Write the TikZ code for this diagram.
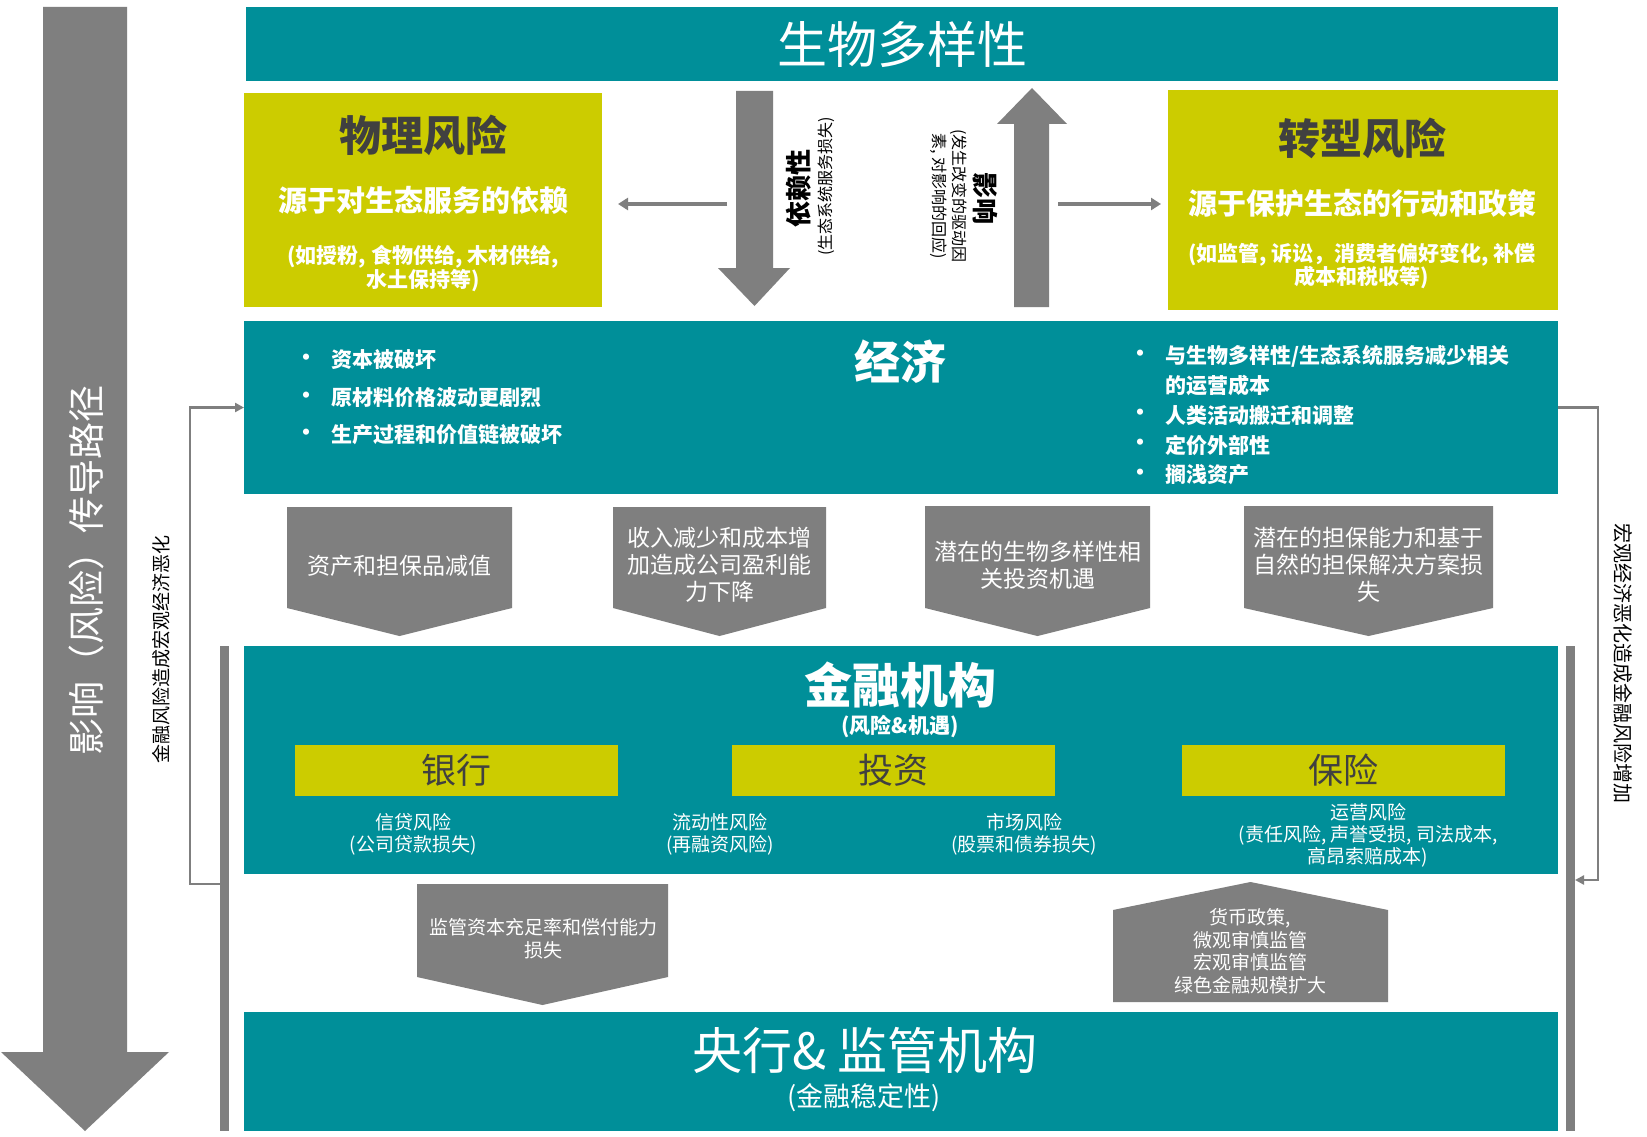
\documentclass[tikz,border=0pt]{standalone}
\usepackage{fontspec}
\setmainfont{Noto Sans CJK SC}
\usetikzlibrary{arrows.meta}
\definecolor{bteal}{RGB}{0,143,153}
\definecolor{byel}{RGB}{204,204,0}
\definecolor{bgray}{RGB}{127,127,127}
\definecolor{dtext}{RGB}{64,64,64}
\newcommand{\FS}[2]{\fontsize{#1}{#2}\selectfont}
\begin{document}
\begin{tikzpicture}[x=1pt,y=-1pt,
  tealbox/.style={fill=bteal, inner sep=0pt, outer sep=0pt},
  yelbox/.style={fill=byel, inner sep=0pt, outer sep=0pt},
  wt/.style={text=white, align=center, inner sep=0pt},
  dt/.style={text=dtext, align=center, inner sep=0pt},
  bk/.style={text=black, align=center, inner sep=0pt},
  bl/.style={text=white, anchor=west, inner sep=0pt, font=\bfseries\FS{21}{25}},
  dotn/.style={text=white, inner sep=0pt, font=\bfseries\FS{22}{24}},
  thinarr/.style={draw=bgray, line width=4pt, -{Triangle[length=10pt,width=12pt]}},
  brk/.style={draw=bgray, line width=2.5pt, -{Triangle[length=9pt,width=9pt]}},
  vbar/.style={draw=bgray, line width=9pt},
]
\useasboundingbox (0,0) rectangle (1647,1137);
\fill[white] (0,0) rectangle (1647,1137);

% big left arrow
\fill[bgray] (43,7) -- (127,7) -- (127,1052) -- (169,1052) -- (85,1131) -- (1,1052) -- (43,1052) -- cycle;
\node[wt, rotate=90, font=\FS{37}{40}] (ptxt) at (86,570) {影响（风险）传导路径};

% top banner
\node[tealbox, minimum width=1312pt, minimum height=74pt, text=white, font=\FS{50}{54}] (bio) at (902,44) {生物多样性};

% physical risk
\node[yelbox, minimum width=358pt, minimum height=214pt] (phys) at (423,200) {};
\node[dt, font=\bfseries\FS{42}{46}] (physT) at (423,135) {物理风险};
\node[wt, font=\bfseries\FS{29}{32}] (physS) at (423,200) {源于对生态服务的依赖};
\node[wt, font=\bfseries\FS{21}{24}] (physP) at (423,269) {(如授粉, 食物供给, 木材供给,\\水土保持等)};

% transition risk
\node[yelbox, minimum width=390pt, minimum height=220pt] (trans) at (1363,200) {};
\node[dt, font=\bfseries\FS{42}{46}] (transT) at (1362,138.5) {转型风险};
\node[wt, font=\bfseries\FS{29}{32}] (transS) at (1362,203.5) {源于保护生态的行动和政策};
\node[wt, font=\bfseries\FS{21}{23.5}] (transP) at (1362,266) {(如监管, 诉讼，消费者偏好变化, 补偿\\成本和税收等)};

% central arrows
\fill[bgray] (736,91) -- (773,91) -- (773,268) -- (790,268) -- (754.5,306) -- (718,268) -- (736,268) -- cycle;
\fill[bgray] (1014,307) -- (1049,307) -- (1049,124) -- (1067,124) -- (1032,88) -- (997,124) -- (1014,124) -- cycle;
\node[bk, rotate=90, font=\bfseries\FS{26}{28}] (dep) at (799,188) {依赖性};
\node[bk, rotate=90, font=\FS{16}{18}] (depS) at (826,186) {(生态系统服务损失)};
\node[bk, rotate=-90, font=\bfseries\FS{26}{28}] (imp) at (985,198) {影响};
\node[bk, rotate=-90, font=\FS{16}{20}] (impS) at (948.5,196) {(发生改变的驱动因\\素, 对影响的回应)};

\coordinate (la1) at (727,204); \coordinate (la2) at (618,204);
\draw[thinarr] (la1) -- (la2);
\coordinate (ra1) at (1058,204); \coordinate (ra2) at (1161,204);
\draw[thinarr] (ra1) -- (ra2);

% economy
\node[tealbox, minimum width=1314pt, minimum height=173pt] (econ) at (901,407.5) {};
\node[wt, font=\bfseries\FS{46}{50}] (econT) at (900,362) {经济};
\node[dotn] (d1) at (306,360) {•};
\node[dotn] (d2) at (306,398) {•};
\node[dotn] (d3) at (306,435) {•};
\node[bl] (b1) at (331,360) {资本被破坏};
\node[bl] (b2) at (331,398) {原材料价格波动更剧烈};
\node[bl] (b3) at (331,435) {生产过程和价值链被破坏};
\node[dotn] (e1) at (1140,356) {•};
\node[dotn] (e3) at (1140,415) {•};
\node[dotn] (e4) at (1140,445) {•};
\node[dotn] (e5) at (1140,475) {•};
\node[bl] (c1) at (1165,356) {与生物多样性/生态系统服务减少相关};
\node[bl] (c2) at (1165,385.5) {的运营成本};
\node[bl] (c3) at (1165,415) {人类活动搬迁和调整};
\node[bl] (c4) at (1165,445) {定价外部性};
\node[bl] (c5) at (1165,475) {搁浅资产};

% pentagons row
\fill[bgray] (287,507) -- (512,507) -- (512,608) -- (399.5,636) -- (287,608) -- cycle;
\node[wt, font=\FS{23}{27}] (p1) at (399.5,566) {资产和担保品减值};
\fill[bgray] (613,507) -- (826,507) -- (826,608) -- (719.5,636) -- (613,608) -- cycle;
\node[wt, font=\FS{23}{27}] (p2) at (719.5,565) {收入减少和成本增\\加造成公司盈利能\\力下降};
\fill[bgray] (925,506) -- (1150,506) -- (1150,608) -- (1037.5,636) -- (925,608) -- cycle;
\node[wt, font=\FS{23}{27}] (p3) at (1038,565) {潜在的生物多样性相\\关投资机遇};
\fill[bgray] (1244,506) -- (1493,506) -- (1493,608) -- (1368.5,636) -- (1244,608) -- cycle;
\node[wt, font=\FS{23}{27}] (p4) at (1368.5,565) {潜在的担保能力和基于\\自然的担保解决方案损\\失};

% financial institutions
\node[tealbox, minimum width=1314pt, minimum height=228pt] (fin) at (901,760) {};
\node[wt, font=\bfseries\FS{48}{52}] (finT) at (900,685) {金融机构};
\node[wt, font=\bfseries\FS{21}{24}] (finS) at (900,727) {(风险\&机遇)};
\node[yelbox, minimum width=323pt, minimum height=51pt, text=dtext, font=\FS{35}{38}] (bank) at (456.5,770) {银行};
\node[yelbox, minimum width=323pt, minimum height=51pt, text=dtext, font=\FS{35}{38}] (inv) at (893.5,770) {投资};
\node[yelbox, minimum width=323pt, minimum height=51pt, text=dtext, font=\FS{35}{38}] (ins) at (1343,770) {保险};
\node[wt, font=\FS{19}{22}] (bankS) at (413,834.5) {信贷风险\\(公司贷款损失)};
\node[wt, font=\FS{19}{22}] (invS) at (720,834.5) {流动性风险\\(再融资风险)};
\node[wt, font=\FS{19}{22}] (mktS) at (1024,834.5) {市场风险\\(股票和债券损失)};
\node[wt, font=\FS{19}{22}] (insS) at (1368,835.5) {运营风险\\(责任风险, 声誉受损, 司法成本,\\高昂索赔成本)};

% lower shapes
\fill[bgray] (417,884) -- (668,884) -- (668,977) -- (542.5,1005) -- (417,977) -- cycle;
\node[wt, font=\FS{19}{23}] (reg) at (543,938.5) {监管资本充足率和偿付能力\\损失};
\fill[bgray] (1113,1002) -- (1388,1002) -- (1388,910) -- (1250.5,882) -- (1113,910) -- cycle;
\node[wt, font=\FS{19}{22.5}] (pol) at (1250,951.5) {货币政策,\\微观审慎监管\\宏观审慎监管\\绿色金融规模扩大};

% central bank
\node[tealbox, minimum width=1314pt, minimum height=119pt] (cb) at (901,1071.5) {};
\node[wt, font=\FS{50}{54}] (cbT) at (865,1050) {央行\& 监管机构};
\node[wt, font=\FS{27}{30}] (cbS) at (864,1098) {(金融稳定性)};

% side bars and brackets
\draw[vbar] (224.5,646) -- (224.5,1131);
\draw[vbar] (1570.5,646) -- (1570.5,1131);
\coordinate (lb) at (220,884);
\draw[brk] (lb) -- (190,884) |- (econ.west);
\coordinate (rb) at (1575,880);
\draw[brk] (econ.east) -- (1598,407.5) |- (rb);
\node[bk, rotate=90, font=\FS{19}{21}] (lt) at (161,649) {金融风险造成宏观经济恶化};
\node[bk, rotate=-90, font=\FS{20}{22}] (rt) at (1623,663) {宏观经济恶化造成金融风险增加};
\end{tikzpicture}
\end{document}
